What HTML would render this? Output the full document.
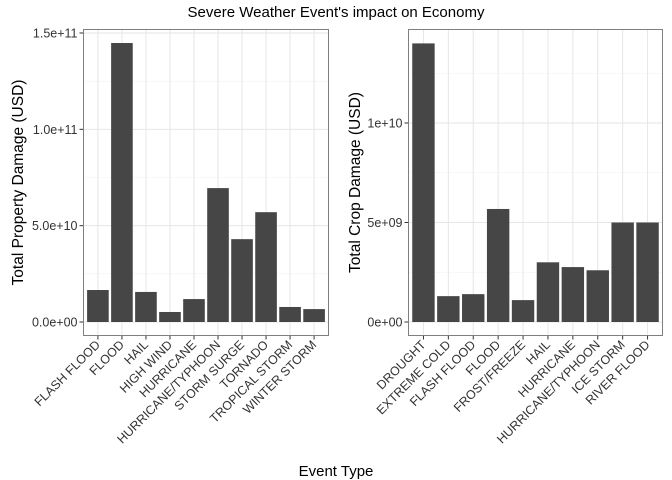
<!DOCTYPE html>
<html><head><meta charset="utf-8"><style>
body{margin:0;background:#fff;}
svg{display:block;font-family:"Liberation Sans",Arial,sans-serif;}
</style></head><body>
<svg id="chart" width="672" height="480">
<text x="336" y="17" text-anchor="middle" font-size="15" fill="#000">Severe Weather Event's impact on Economy</text>
<text x="336" y="476" text-anchor="middle" font-size="15" fill="#000">Event Type</text>
<g id="left"></g>
<g id="right"></g>
</svg>
<script>
const propCategories=["FLASH FLOOD","FLOOD","HAIL","HIGH WIND","HURRICANE","HURRICANE/TYPHOON","STORM SURGE","TORNADO","TROPICAL STORM","WINTER STORM"];
const propValues=[1.66e10,1.448e11,1.56e10,5.2e9,1.19e10,6.95e10,4.3e10,5.7e10,7.8e9,6.7e9];
const propTicks=[0,5e10,1e11,1.5e11];
const propTickLabels=["0.0e+00","5.0e+10","1.0e+11","1.5e+11"];
const cropCategories=["DROUGHT","EXTREME COLD","FLASH FLOOD","FLOOD","FROST/FREEZE","HAIL","HURRICANE","HURRICANE/TYPHOON","ICE STORM","RIVER FLOOD"];
const cropValues=[1.40e10,1.3e9,1.4e9,5.68e9,1.1e9,3.0e9,2.76e9,2.6e9,5.0e9,5.0e9];
const cropTicks=[0,5e9,1e10];
const cropTickLabels=["0e+00","5e+09","1e+10"];
const NS="http://www.w3.org/2000/svg";
function mk(p,t,a){const e=document.createElementNS(NS,t);for(const k in a)e.setAttribute(k,a[k]);p.appendChild(e);return e;}
function panel(g,L,R,T,B,refVal,refPix,cats,vals,ticks,labels,ytitle,prefix,titleX){
  const Y0=322;
  const y=v=>Y0-(v/refVal)*(Y0-refPix);
  const n=cats.length, band=(R-L)/(n+0.2), x0=L+0.6*band;
  const x=i=>x0+i*band;
  const bg=mk(g,'rect',{x:L,y:T,width:R-L,height:B-T,fill:'#fff',stroke:'none'});
  
  
  const step=ticks[1]-ticks[0];
  for(let i=-1;i<ticks.length+1;i++){
    const ym=y(ticks[0]+step*(i+0.5));
    if(ym>T&&ym<B){const m=mk(g,'line',{x1:L,x2:R,y1:ym,y2:ym,stroke:'#f2f2f2','stroke-width':0.6});
    }
  }
  ticks.forEach((t,i)=>{
    const yy=y(t);
    const gl=mk(g,'line',{x1:L,x2:R,y1:yy,y2:yy,stroke:'#e6e6e6','stroke-width':1});
    
    const tk=mk(g,'line',{x1:L-4,x2:L,y1:yy,y2:yy,stroke:'#333','stroke-width':1});
    
    const tl=mk(g,'text',{x:L-6,y:yy+4.5,'text-anchor':'end','font-size':12.5,fill:'#333'});
    tl.textContent=labels[i];
    
  });
  cats.forEach((c,i)=>{
    const cx=x(i);
    const vg=mk(g,'line',{x1:cx,x2:cx,y1:T,y2:B,stroke:'#e6e6e6','stroke-width':1});
    
  });
  cats.forEach((c,i)=>{
    const cx=x(i), w=band*0.9;
    const b=mk(g,'rect',{x:cx-w/2,y:y(vals[i]),width:w,height:y(0)-y(vals[i]),fill:'#464646'});
    
    
    const tk=mk(g,'line',{x1:cx,x2:cx,y1:B,y2:B+4,stroke:'#333','stroke-width':1});
    
    const ax=cx+3, ay=B+10;
    const tl=mk(g,'text',{x:ax,y:ay,'text-anchor':'end','font-size':12.5,fill:'#333',transform:`rotate(-45 ${ax} ${ay})`});
    tl.textContent=c;
    
  });
  const fr=mk(g,'rect',{x:L,y:T,width:R-L,height:B-T,fill:'none',stroke:'#7f7f7f','stroke-width':1});
  
  const yt=mk(g,'text',{x:0,y:0,'text-anchor':'middle','font-size':15.5,fill:'#000',transform:`translate(${titleX} ${(T+B)/2}) rotate(-90)`});
  yt.textContent=ytitle;
  
}
panel(document.getElementById('left'),83.5,328.5,29.5,335.5,1.5e11,33,propCategories,propValues,propTicks,propTickLabels,'Total Property  Damage (USD)','prop',23);
panel(document.getElementById('right'),408.5,662.5,29.5,335.5,1e10,123,cropCategories,cropValues,cropTicks,cropTickLabels,'Total Crop  Damage (USD)','crop',360);
</script>
</body></html>
